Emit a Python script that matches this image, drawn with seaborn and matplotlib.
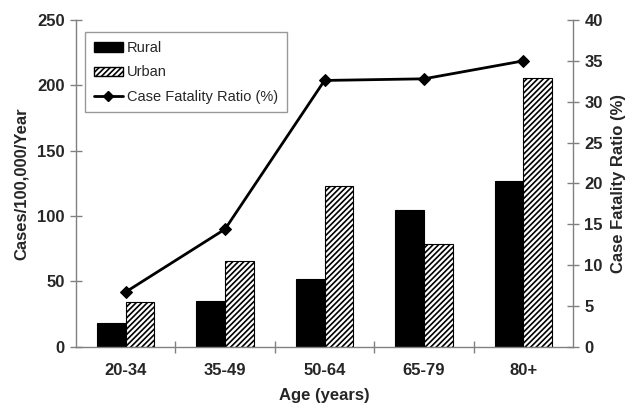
import matplotlib
matplotlib.use("Agg")
import matplotlib.pyplot as plt
import seaborn as sns
import pandas as pd
from matplotlib.lines import Line2D
from matplotlib.patches import Patch

ages = ["20-34", "35-49", "50-64", "65-79", "80+"]
rural = [18, 35, 52, 105, 127]
urban = [34, 66, 123, 79, 206]
cfr = [6.7, 14.4, 32.6, 32.8, 35.0]

sns.set_theme(style="white")
plt.rcParams['font.family'] = ['Liberation Sans', 'DejaVu Sans']
plt.rcParams['hatch.linewidth'] = 1.2

df = pd.DataFrame({
    "Age": ages * 2,
    "Cases": rural + urban,
    "Setting": ["Rural"] * len(ages) + ["Urban"] * len(ages),
})

fig = plt.figure(figsize=(6.32, 4.08), dpi=100)
ax = fig.add_axes([0.120, 0.150, 0.787, 0.801])
sns.barplot(data=df, x="Age", y="Cases", hue="Setting", hue_order=["Rural", "Urban"],
            palette=["black", "white"], width=0.58, edgecolor="black", linewidth=0.8,
            ax=ax, legend=False, saturation=1)
n = len(ages)
for i, p in enumerate(ax.patches[:2 * n]):
    if i >= n:
        p.set_hatch("//////")
        p.set_facecolor("white")
        p.set_edgecolor("black")

ax.set_ylim(0, 250)
ax.set_xlim(-0.5, n - 0.5)
ax.set_yticks([0, 50, 100, 150, 200, 250])
ax.set_xticks(range(n))
ax.set_xticklabels(ages)
ax.set_xlabel("Age (years)", fontsize=12, fontweight="bold", labelpad=7)
ax.set_ylabel("Cases/100,000/Year", fontsize=12, fontweight="bold", labelpad=6)

ax2 = ax.twinx()
ax2.set_position([0.120, 0.150, 0.787, 0.801])
sns.lineplot(x=list(range(n)), y=cfr, ax=ax2, color="black", marker="D", markersize=6,
             linewidth=2, markeredgecolor="black")
ax2.set_ylim(0, 40)
ax2.set_yticks(range(0, 45, 5))
ax2.set_ylabel("Case Fatality Ratio (%)", fontsize=12, fontweight="bold", labelpad=6)

grey = "#808080"
for a in (ax, ax2):
    for s in a.spines.values():
        s.set_visible(False)
ax.spines["left"].set_visible(True)
ax.spines["bottom"].set_visible(True)
ax2.spines["right"].set_visible(True)
for s in (ax.spines["left"], ax.spines["bottom"], ax2.spines["right"]):
    s.set_color(grey)
    s.set_linewidth(1)

ax.tick_params(axis="y", direction="inout", length=8, width=1, color=grey,
               labelsize=12, left=True, pad=4)
ax.tick_params(axis="x", bottom=False, labelsize=12, pad=6)
ax2.tick_params(axis="y", direction="inout", length=8, width=1, color=grey,
                labelsize=12, right=True, pad=4)
for lab in ax.get_yticklabels() + ax.get_xticklabels() + ax2.get_yticklabels():
    lab.set_fontweight("bold")

# category boundary ticks on x axis
ax.set_xticks([i + 0.5 for i in range(n - 1)], minor=True)
ax.tick_params(axis="x", which="minor", bottom=True, direction="inout", length=8,
               width=1, color=grey)

handles = [
    Patch(facecolor="black", edgecolor="black", label="Rural"),
    Patch(facecolor="white", edgecolor="black", hatch="//////", label="Urban"),
    Line2D([0], [0], color="black", marker="D", markersize=5, linewidth=2,
           label="Case Fatality Ratio (%)"),
]
leg = ax2.legend(handles=handles, loc="upper left", bbox_to_anchor=(0.018, 0.962),
                 borderaxespad=0, frameon=True, fancybox=False, fontsize=10.5,
                 handlelength=2.0, handleheight=0.6, borderpad=0.6, labelspacing=0.7,
                 handletextpad=0.3)
leg.get_frame().set_edgecolor(grey)
leg.get_frame().set_linewidth(1)

fig.savefig("out.png", dpi=100)
